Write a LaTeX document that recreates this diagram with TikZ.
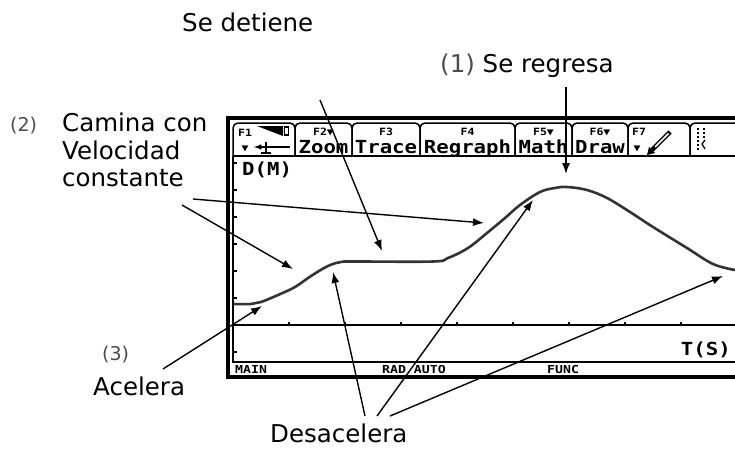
\documentclass[tikz,border=0pt]{standalone}
\usepackage{fontspec}
\setmainfont{DejaVu Sans}
\newfontfamily\tifont[FakeStretch=1.15]{DejaVu Sans Mono}
\newfontfamily\tistatus[FakeStretch=1.2]{DejaVu Sans Mono}
\usetikzlibrary{arrows.meta}
\tikzset{%
	remark/.style    = {font=\fontsize{24.5}{27.5}\selectfont, inner sep=0pt, anchor=base west},
	tag/.style       = {font=\fontsize{19}{22}\selectfont, text=black!70, inner sep=0pt, anchor=base west},
	pointer/.style   = {line width=1.4pt,-{Latex[length=11pt,width=8pt]}},
	frameline/.style = {line width=4pt},
	tabline/.style   = {line width=1.5pt, rounded corners=5pt},
	tiword/.style    = {font=\tifont\bfseries\fontsize{18}{18}\selectfont, inner sep=0pt, anchor=base},
	tikey/.style     = {font=\tifont\bfseries\fontsize{10}{10}\selectfont, inner sep=0pt, anchor=base},
	tistat/.style    = {font=\tistatus\bfseries\fontsize{11}{11}\selectfont, inner sep=0pt, anchor=base west},
	graphline/.style = {line width=2.6pt, black!80},
}
\begin{document}
\begin{tikzpicture}[x=1pt,y=-1pt]
		\useasboundingbox (0,0) rectangle (735,450);
		
		% calculator screen
		\draw[frameline] (228,118) rectangle (745,377);
		\foreach \a/\b in {233/295,295/352,352/420,420/515,515/572,572/628,628/690,690/752}
			\draw[tabline] (\a,156) -- (\a,123) -- (\b,123) -- (\b,156);
		\draw[line width=1.5pt] (233,156) -- (745,156);
		\draw[line width=1.5pt] (233,156) -- (233,362) -- (745,362);
		\draw[line width=1.5pt] (233,325) -- (745,325);
		\foreach \k in {1,...,8}
			\draw[line width=1.2pt] (233+56*\k,325) -- ++(0,-3.5);
		\foreach \y in {163,190,217,244,271,298,352}
			\draw[line width=1.2pt] (233,\y) -- ++(3.5,0);
		
		% toolbar
		\node[tikey, anchor=base west] (f1) at (238,136) {F1};
		\fill (257,126) -- (283,126) -- (283,136) -- cycle;
		\draw[line width=1.2pt] (284.5,127) rectangle (288.5,135);
		\node[tikey] (f1menu) at (245,151) {▼};
		\draw[line width=1.5pt,-latex] (290,147) -- (254,147);
		\draw[line width=1.5pt] (266,142) -- (266,153) (261,153) -- (271,153);
		\node[tikey] (f2) at (323.5,135) {F2▼};
		\node[tiword] (zoom) at (323.5,153) {Zoom};
		\node[tikey] (f3) at (386,135) {F3};
		\node[tiword] (trace) at (386,153) {Trace};
		\node[tikey] (f4) at (467.5,135) {F4};
		\node[tiword] (regraph) at (467.5,153) {Regraph};
		\node[tikey] (f5) at (543.5,135) {F5▼};
		\node[tiword] (math) at (543.5,153) {Math};
		\node[tikey] (f6) at (600,135) {F6▼};
		\node[tiword] (drawtab) at (600,153) {Draw};
		\node[tikey, anchor=base west] (f7) at (632,135) {F7};
		\node[tikey] (f7menu) at (637,151) {▼};
		\draw[line width=4.5pt] (652,150) -- (670,132);
		\draw[line width=1.6pt,white] (655,147) -- (668.5,133.5);
		\fill (647,155) -- (649,147) -- (655,153) -- cycle;
		\foreach \y in {128,132,...,148}
			\fill (697,\y) rectangle ++(1.8,1.8);
		\foreach \y in {128,132,136}
			\fill (703,\y) rectangle ++(1.8,1.8);
		\draw[line width=1.3pt] (705,140) -- (702,144) -- (705,149);
		
		% screen texts
		\node[tiword, anchor=base west] (dm) at (242,175) {D(M)};
		\node[tiword, anchor=base east] (ts) at (731,355) {T(S)};
		\node[tistat] (main) at (235,373) {MAIN};
		\node[tistat] (radauto) at (382,373) {RAD AUTO};
		\node[tistat] (func) at (547,373) {FUNC};
		
		% graph
		\draw[graphline] plot[smooth, tension=0.6] coordinates {(233,304) (251,304) (261,302) (278,295) (295,287) (311,276) (328,266) (341,262) (355,261.5) (433,261.5) (448,258) (468,248) (487,233) (505,218) (520,205) (540,192) (555,188) (567,187) (587,190) (607,198) (630,212) (653,227) (687,248) (713,264) (735,270)};
		
		% labels
		\node[remark] (detiene) at (182,31) {Se detiene};
		\node[remark] (regresa) at (440,72) {\textcolor{black!70}{(1)} Se regresa};
		\node[tag] (num2) at (10,131) {(2)};
		\node[remark, anchor=north west, align=left] (camina) at (62,113) {Camina con\\Velocidad\\constante};
		\node[tag] (num3) at (102,360) {(3)};
		\node[remark] (acelera) at (93,395) {Acelera};
		\node[remark] (desacelera) at (270,442) {Desacelera};
		
		% arrows
		\coordinate (detiene-t) at (320,100);
		\coordinate (stop) at (382,251);
		\coordinate (regresa-t) at (566,87);
		\coordinate (peak) at (566,174);
		\coordinate (camina-t1) at (193,199);
		\coordinate (walk1) at (484,223);
		\coordinate (camina-t2) at (182,205);
		\coordinate (walk2) at (293,269);
		\coordinate (acelera-t) at (163,369);
		\coordinate (speedup) at (262,306);
		\coordinate (desacelera-t1) at (365,416);
		\coordinate (desacelera-t2) at (377,416);
		\coordinate (desacelera-t3) at (390,416);
		\coordinate (slow1) at (333,272);
		\coordinate (slow2) at (533,200);
		\coordinate (slow3) at (723,276);
		\draw[pointer] (detiene-t) -- (stop);
		\draw[pointer] (regresa-t) -- (peak);
		\draw[pointer] (camina-t1) -- (walk1);
		\draw[pointer] (camina-t2) -- (walk2);
		\draw[pointer] (acelera-t) -- (speedup);
		\draw[pointer] (desacelera-t1) -- (slow1);
		\draw[pointer] (desacelera-t2) -- (slow2);
		\draw[pointer] (desacelera-t3) -- (slow3);
		
\end{tikzpicture}
\end{document}
